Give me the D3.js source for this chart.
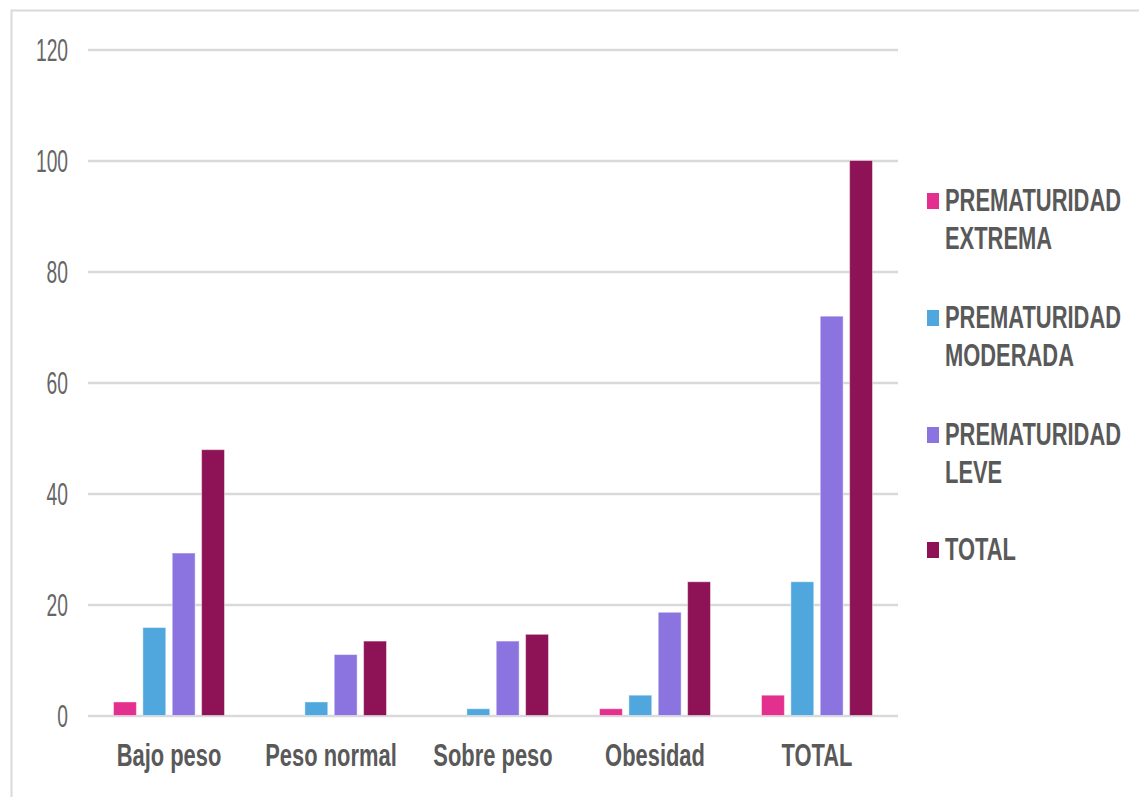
<!DOCTYPE html>
<html>
<head>
<meta charset="utf-8">
<script src="https://cdn.jsdelivr.net/npm/d3@7"></script>
<style>
  body { margin: 0; background: #fff; }
  svg { display: block; }
</style>
</head>
<body>
<div id="chart"></div>
<script>
// data (%)
const categories = ["Bajo peso", "Peso normal", "Sobre peso", "Obesidad", "TOTAL"];
const seriesNames = [
  ["PREMATURIDAD", "EXTREMA"],
  ["PREMATURIDAD", "MODERADA"],
  ["PREMATURIDAD", "LEVE"],
  ["TOTAL"]
];
const extrema  = [2.44, 0, 0, 1.22, 3.66];
const moderada = [15.85, 2.44, 1.22, 3.66, 24.1];
const leve     = [29.27, 10.98, 13.41, 18.6, 71.95];
const total    = [47.9, 13.41, 14.63, 24.1, 100];
const yTicks = [0, 20, 40, 60, 80, 100, 120];
const colors = ["#e3308f", "#4fa7dd", "#8b74e0", "#8e1356"];

const W = 1139, H = 797;
const allSeries = [extrema, moderada, leve, total];

const svg = d3.select("#chart").append("svg")
  .attr("width", W)
  .attr("height", H);

// outer frame (only top and left edges show)
svg.append("path")
  .attr("d", `M11.5,${H} L11.5,10.5 L${W},10.5`)
  .attr("fill", "none")
  .attr("stroke", "#d9d9d9")
  .attr("stroke-width", 2);

const x0 = d3.scaleBand()
  .domain(categories)
  .range([88, 898])
  .paddingInner(0.315)
  .paddingOuter(0.1575);

const x1 = d3.scaleBand()
  .domain(d3.range(allSeries.length))
  .range([0, x0.bandwidth()])
  .paddingInner(0.22)
  .paddingOuter(0);

const y = d3.scaleLinear()
  .domain([0, 120])
  .range([715.5, 49.5]);

// y axis + gridlines
const yAxis = svg.append("g")
  .attr("transform", "translate(88,0)")
  .call(d3.axisLeft(y).tickValues(yTicks).tickSize(-810).tickPadding(20));

yAxis.select(".domain").remove();
yAxis.selectAll(".tick line")
  .attr("stroke", "#d9d9d9")
  .attr("stroke-width", 2.5);
yAxis.selectAll(".tick text")
  .attr("x", 0)
  .attr("dy", "0.36em")
  .attr("transform", "translate(-20,0) scale(0.62,1)")
  .attr("fill", "#666")
  .attr("font-family", "'Liberation Sans', Arial, sans-serif")
  .attr("font-size", 31);

// bars
const groups = svg.append("g").selectAll("g")
  .data(categories)
  .join("g")
  .attr("transform", d => `translate(${x0(d)},0)`);

groups.selectAll("rect")
  .data((d, i) => allSeries.map((s, k) => ({ k: k, v: s[i] })))
  .join("rect")
  .filter(d => d.v > 0)
  .attr("x", d => x1(d.k))
  .attr("y", d => y(d.v))
  .attr("width", x1.bandwidth())
  .attr("height", d => y(0) - y(d.v))
  .attr("fill", d => colors[d.k])
  .attr("stroke", "#fff")
  .attr("stroke-opacity", 0.45)
  .attr("stroke-width", 1);

// category labels
svg.append("g").selectAll("text")
  .data(categories)
  .join("text")
  .attr("transform", d => `translate(${x0(d) + x0.bandwidth() / 2},766) scale(0.685,1)`)
  .attr("text-anchor", "middle")
  .attr("fill", "#595959")
  .attr("font-family", "'Liberation Sans', Arial, sans-serif")
  .attr("font-weight", "bold")
  .attr("font-size", 32)
  .text(d => d);

// legend
const legendBase = [211, 328, 445, 560];
const legend = svg.append("g").selectAll("g")
  .data(seriesNames)
  .join("g")
  .attr("transform", (d, i) => `translate(0,${legendBase[i]})`);

legend.append("rect")
  .attr("x", 927)
  .attr("y", -18)
  .attr("width", 12)
  .attr("height", 16)
  .attr("fill", (d, i) => colors[i]);

legend.each(function(lines) {
  const g = d3.select(this);
  lines.forEach((t, j) => {
    g.append("text")
      .attr("transform", `translate(945,${j * 38}) scale(0.685,1)`)
      .attr("fill", "#595959")
      .attr("font-family", "'Liberation Sans', Arial, sans-serif")
      .attr("font-weight", "bold")
      .attr("font-size", 32)
      .text(t);
  });
});
</script>
</body>
</html>
